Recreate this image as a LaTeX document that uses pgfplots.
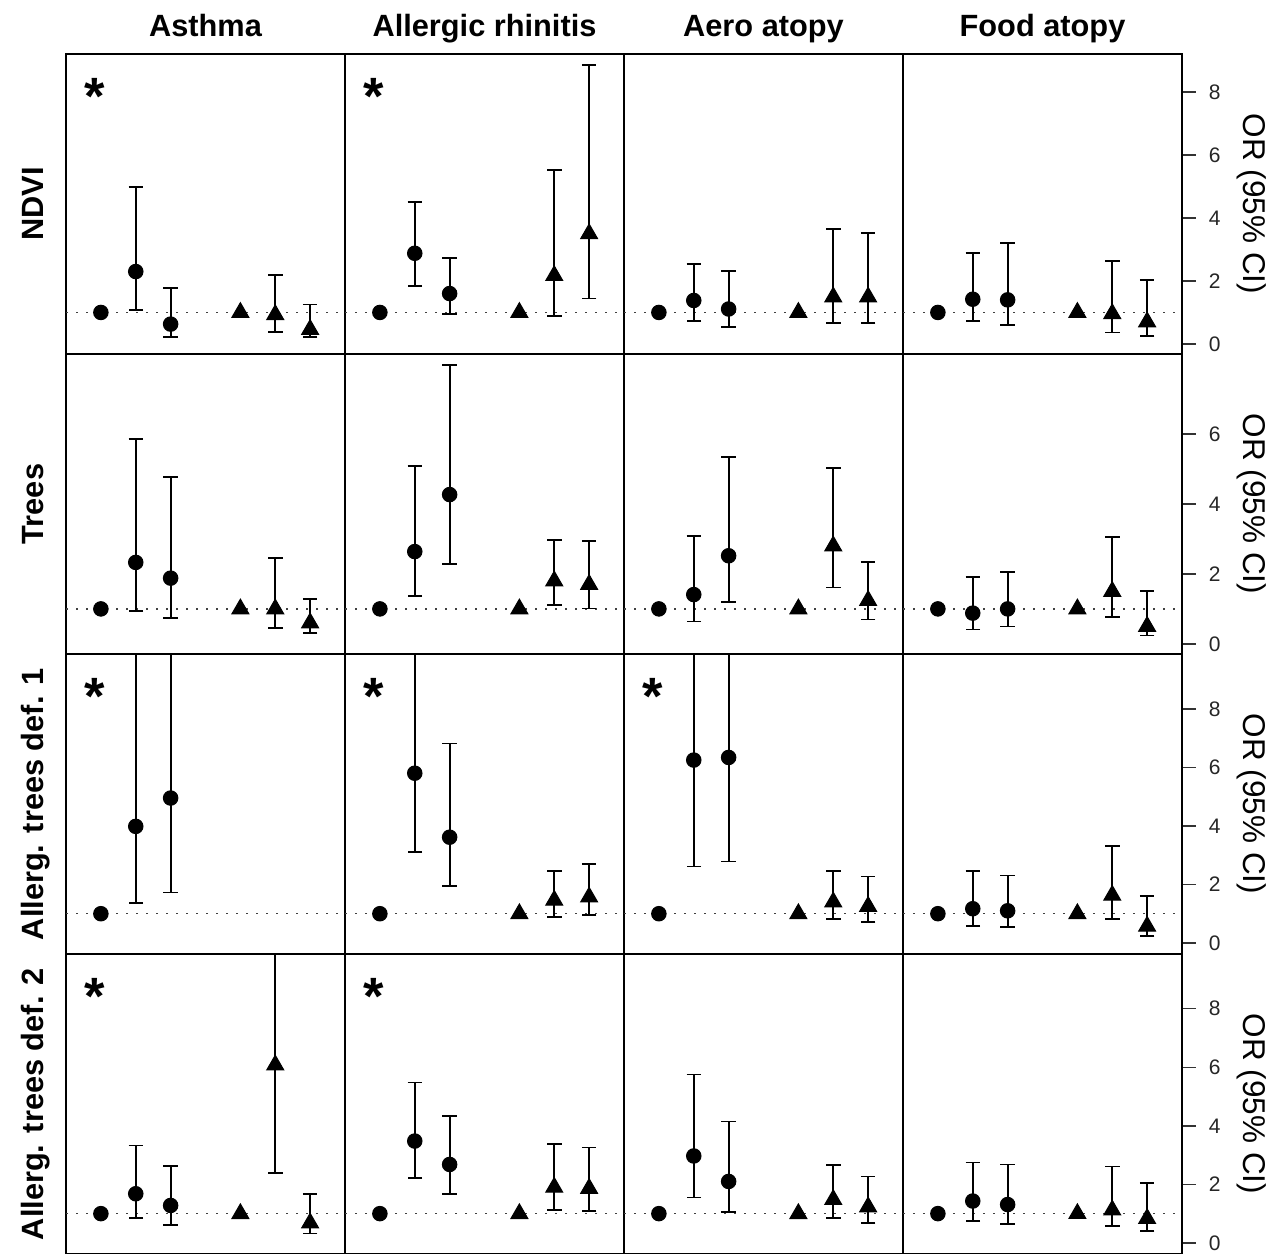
\documentclass[border=0pt]{standalone}
\usepackage{fontspec}
\setmainfont{Liberation Sans}
\usepackage{pgfplots}
\pgfplotsset{compat=1.18}
\usepgfplotslibrary{groupplots}
\usetikzlibrary{calc}

% 1 px of the reference = 0.4pt
\newcommand{\ttl}{\bfseries\fontsize{12.3}{14}\selectfont}
\newcommand{\signif}{\node[anchor=north, inner sep=0pt, font=\bfseries\fontsize{21}{22}\selectfont]}

\pgfplotsset{
  table/ci/.style={row sep=\\,
    y error plus expr=\thisrow{hi}-\thisrow{y},
    y error minus expr=\thisrow{y}-\thisrow{lo}},
  refl/.style={black!75, line width=0.6pt, dash pattern=on 0.6pt off 3.4pt, forget plot},
  pt/.style={only marks, black},
  circ/.style={pt, mark=*, mark size=2.9pt},
  tri/.style={pt, mark=triangle*, mark size=3.9pt},
  bars/.style={error bars/.cd, y dir=both, y explicit,
    error bar style={line width=0.7pt},
    error mark options={rotate=90, line width=0.7pt, mark size=2.9pt}},
  r1/.style={ymin=-0.32, ymax=9.21},
  r2/.style={ymin=-0.29, ymax=8.29},
  r3/.style={ymin=-0.38, ymax=9.89},
  r4/.style={ymin=-0.38, ymax=9.87},
  rt/.style={ytick={0,2,4,6,8}},
}

\begin{document}
\begin{tikzpicture}
\begin{groupplot}[
  group style={group size=4 by 4, horizontal sep=0pt, vertical sep=0pt},
  scale only axis, width=111.6pt, height=120pt,
  xmin=0, xmax=8, xtick=\empty, ytick=\empty,
  clip mode=individual,
  axis line style={line width=0.9pt},
  ytick pos=right, yticklabel pos=right,
  tick align=outside, major tick length=5.4pt,
  tick style={line width=0.6pt, black!80},
  yticklabel style={font=\fontsize{8.4}{9}\selectfont, text=black!85, xshift=1.8pt},
  /pgf/number format/assume math mode=true,
]
% ---------- NDVI
\nextgroupplot[r1]
\addplot[refl] coordinates {(0,1) (8,1)};
\addplot[circ] coordinates {(1,1)};
\addplot[circ, bars] table[ci] {x y lo hi\\ 2 2.30 1.08 4.98\\ 3 0.63 0.21 1.77\\};
\addplot[tri] coordinates {(5,1)};
\addplot[tri, bars] table[ci] {x y lo hi\\ 6 0.93 0.39 2.18\\ 7 0.46 0.21 1.25\\};
\nextgroupplot[r1]
\addplot[refl] coordinates {(0,1) (8,1)};
\addplot[circ] coordinates {(1,1)};
\addplot[circ, bars] table[ci] {x y lo hi\\ 2 2.88 1.85 4.50\\ 3 1.60 0.94 2.74\\};
\addplot[tri] coordinates {(5,1)};
\addplot[tri, bars] table[ci] {x y lo hi\\ 6 2.17 0.88 5.52\\ 7 3.50 1.44 8.85\\};
\nextgroupplot[r1]
\addplot[refl] coordinates {(0,1) (8,1)};
\addplot[circ] coordinates {(1,1)};
\addplot[circ, bars] table[ci] {x y lo hi\\ 2 1.38 0.74 2.53\\ 3 1.11 0.53 2.32\\};
\addplot[tri] coordinates {(5,1)};
\addplot[tri, bars] table[ci] {x y lo hi\\ 6 1.49 0.67 3.66\\ 7 1.49 0.67 3.53\\};
\nextgroupplot[r1, rt]
\addplot[refl] coordinates {(0,1) (8,1)};
\addplot[circ] coordinates {(1,1)};
\addplot[circ, bars] table[ci] {x y lo hi\\ 2 1.42 0.73 2.88\\ 3 1.40 0.61 3.21\\};
\addplot[tri] coordinates {(5,1)};
\addplot[tri, bars] table[ci] {x y lo hi\\ 6 0.96 0.36 2.63\\ 7 0.70 0.26 2.02\\};
% ---------- Trees
\nextgroupplot[r2]
\addplot[refl] coordinates {(0,1) (8,1)};
\addplot[circ] coordinates {(1,1)};
\addplot[circ, bars] table[ci] {x y lo hi\\ 2 2.33 0.94 5.85\\ 3 1.88 0.75 4.78\\};
\addplot[tri] coordinates {(5,1)};
\addplot[tri, bars] table[ci] {x y lo hi\\ 6 1.00 0.45 2.45\\ 7 0.60 0.31 1.28\\};
\nextgroupplot[r2]
\addplot[refl] coordinates {(0,1) (8,1)};
\addplot[circ] coordinates {(1,1)};
\addplot[circ, bars] table[ci] {x y lo hi\\ 2 2.64 1.38 5.08\\ 3 4.27 2.29 7.97\\};
\addplot[tri] coordinates {(5,1)};
\addplot[tri, bars] table[ci] {x y lo hi\\ 6 1.80 1.12 2.97\\ 7 1.70 1.01 2.94\\};
\nextgroupplot[r2]
\addplot[refl] coordinates {(0,1) (8,1)};
\addplot[circ] coordinates {(1,1)};
\addplot[circ, bars] table[ci] {x y lo hi\\ 2 1.41 0.64 3.09\\ 3 2.52 1.19 5.35\\};
\addplot[tri] coordinates {(5,1)};
\addplot[tri, bars] table[ci] {x y lo hi\\ 6 2.80 1.61 5.02\\ 7 1.24 0.70 2.35\\};
\nextgroupplot[r2, ytick={0,2,4,6}]
\addplot[refl] coordinates {(0,1) (8,1)};
\addplot[circ] coordinates {(1,1)};
\addplot[circ, bars] table[ci] {x y lo hi\\ 2 0.88 0.41 1.91\\ 3 1.00 0.50 2.05\\};
\addplot[tri] coordinates {(5,1)};
\addplot[tri, bars] table[ci] {x y lo hi\\ 6 1.50 0.77 3.06\\ 7 0.50 0.24 1.52\\};
% ---------- Allerg. trees def. 1
\nextgroupplot[r3]
\addplot[refl] coordinates {(0,1) (8,1)};
\addplot[circ] coordinates {(1,1)};
\addplot[circ, bars] table[ci] {x y lo hi\\ 2 3.99 1.37 12\\ 3 4.96 1.73 12\\};
\nextgroupplot[r3]
\addplot[refl] coordinates {(0,1) (8,1)};
\addplot[circ] coordinates {(1,1)};
\addplot[circ, bars] table[ci] {x y lo hi\\ 2 5.81 3.11 12\\ 3 3.62 1.95 6.83\\};
\addplot[tri] coordinates {(5,1)};
\addplot[tri, bars] table[ci] {x y lo hi\\ 6 1.46 0.90 2.47\\ 7 1.57 0.96 2.69\\};
\nextgroupplot[r3]
\addplot[refl] coordinates {(0,1) (8,1)};
\addplot[circ] coordinates {(1,1)};
\addplot[circ, bars] table[ci] {x y lo hi\\ 2 6.26 2.62 12\\ 3 6.35 2.79 12\\};
\addplot[tri] coordinates {(5,1)};
\addplot[tri, bars] table[ci] {x y lo hi\\ 6 1.40 0.81 2.47\\ 7 1.25 0.71 2.27\\};
\nextgroupplot[r3, rt]
\addplot[refl] coordinates {(0,1) (8,1)};
\addplot[circ] coordinates {(1,1)};
\addplot[circ, bars] table[ci] {x y lo hi\\ 2 1.17 0.58 2.45\\ 3 1.10 0.54 2.31\\};
\addplot[tri] coordinates {(5,1)};
\addplot[tri, bars] table[ci] {x y lo hi\\ 6 1.63 0.81 3.31\\ 7 0.57 0.23 1.61\\};
% ---------- Allerg. trees def. 2
\nextgroupplot[r4]
\addplot[refl] coordinates {(0,1) (8,1)};
\addplot[circ] coordinates {(1,1)};
\addplot[circ, bars] table[ci] {x y lo hi\\ 2 1.68 0.85 3.33\\ 3 1.28 0.62 2.63\\};
\addplot[tri] coordinates {(5,1)};
\addplot[tri, bars] table[ci] {x y lo hi\\ 6 6.08 2.39 12\\ 7 0.68 0.32 1.68\\};
\nextgroupplot[r4]
\addplot[refl] coordinates {(0,1) (8,1)};
\addplot[circ] coordinates {(1,1)};
\addplot[circ, bars] table[ci] {x y lo hi\\ 2 3.48 2.21 5.48\\ 3 2.68 1.67 4.34\\};
\addplot[tri] coordinates {(5,1)};
\addplot[tri, bars] table[ci] {x y lo hi\\ 6 1.90 1.12 3.39\\ 7 1.86 1.10 3.26\\};
\nextgroupplot[r4]
\addplot[refl] coordinates {(0,1) (8,1)};
\addplot[circ] coordinates {(1,1)};
\addplot[circ, bars] table[ci] {x y lo hi\\ 2 2.97 1.55 5.75\\ 3 2.10 1.06 4.15\\};
\addplot[tri] coordinates {(5,1)};
\addplot[tri, bars] table[ci] {x y lo hi\\ 6 1.48 0.85 2.65\\ 7 1.23 0.68 2.27\\};
\nextgroupplot[r4, rt]
\addplot[refl] coordinates {(0,1) (8,1)};
\addplot[circ] coordinates {(1,1)};
\addplot[circ, bars] table[ci] {x y lo hi\\ 2 1.43 0.75 2.75\\ 3 1.31 0.65 2.68\\};
\addplot[tri] coordinates {(5,1)};
\addplot[tri, bars] table[ci] {x y lo hi\\ 6 1.12 0.57 2.61\\ 7 0.83 0.40 2.04\\};
\end{groupplot}

% column titles
\node[anchor=base, font=\ttl] at ($(group c1r1.north)+(0,7.2pt)$) {Asthma};
\node[anchor=base, font=\ttl] at ($(group c2r1.north)+(0,7.2pt)$) {Allergic rhinitis};
\node[anchor=base, font=\ttl] at ($(group c3r1.north)+(0,7.2pt)$) {Aero atopy};
\node[anchor=base, font=\ttl] at ($(group c4r1.north)+(0,7.2pt)$) {Food atopy};
% row labels
\node[anchor=base, rotate=90, font=\ttl] at ($(group c1r1.west)+(-9pt,0)$) {NDVI};
\node[anchor=base, rotate=90, font=\ttl] at ($(group c1r2.west)+(-9pt,0)$) {Trees};
\node[anchor=base, rotate=90, font=\ttl] at ($(group c1r3.west)+(-9pt,0)$) {Allerg. trees def. 1};
\node[anchor=base, rotate=90, font=\ttl] at ($(group c1r4.west)+(-9pt,0)$) {Allerg. trees def. 2};
% y labels on the right
\foreach \r in {1,2,3,4}
  \node[rotate=-90, font=\fontsize{12.6}{14}\selectfont] at ($(group c4r\r.east)+(28pt,0)$) {OR (95\% CI)};
% significance stars
\foreach \p in {c1r1,c2r1,c1r3,c2r3,c3r3,c1r4,c2r4}
  \signif at ($(group \p.north west)+(11.6pt,-9.6pt)$) {*};

\pgfresetboundingbox
\useasboundingbox ($(group c1r1.north west)+(-26.4pt,21.6pt)$) rectangle ($(group c4r4.south east)+(37.2pt,0pt)$);
\end{tikzpicture}
\end{document}
